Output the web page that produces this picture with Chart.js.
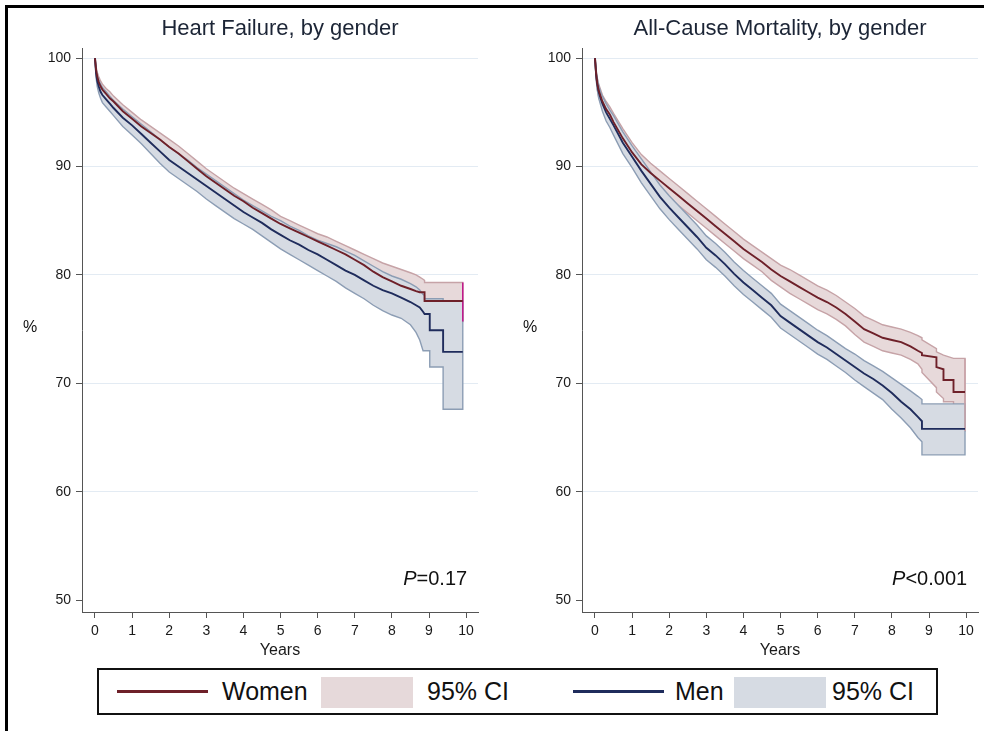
<!DOCTYPE html>
<html>
<head>
<meta charset="utf-8">
<script src="https://cdn.jsdelivr.net/npm/chart.js@4.4.1/dist/chart.umd.min.js"></script>
<style>
html,body{margin:0;padding:0;background:#fff;width:984px;height:731px;overflow:hidden;font-family:"Liberation Sans",Arial,sans-serif;}
#frame{position:absolute;left:5px;top:5px;width:979px;height:726px;border-left:3px solid #000;border-top:3px solid #000;box-sizing:border-box;}
#c1{position:absolute;left:0;top:0;}
#c2{position:absolute;left:500px;top:0;}
#legend{position:absolute;left:97px;top:668px;width:841px;height:47px;border:2px solid #111;box-sizing:border-box;background:#fff;}
#legend .ln{position:absolute;top:20px;height:3px;width:91px;}
#legend .sw{position:absolute;top:7px;height:31px;width:92px;}
#legend .tx{position:absolute;top:0;height:43px;line-height:43px;font-size:25px;color:#111;white-space:nowrap;}
</style>
</head>
<body>
<div id="frame"></div>
<canvas id="c1" width="492" height="660"></canvas>
<canvas id="c2" width="484" height="660"></canvas>
<div id="legend">
  <div class="ln" style="left:18px;background:#6e2029;"></div>
  <div class="tx" style="left:123px;">Women</div>
  <div class="sw" style="left:222px;background:#e6d9da;"></div>
  <div class="tx" style="left:328px;">95% CI</div>
  <div class="ln" style="left:474px;background:#1f2c5c;"></div>
  <div class="tx" style="left:576px;">Men</div>
  <div class="sw" style="left:635px;background:#d6dbe3;"></div>
  <div class="tx" style="left:733px;">95% CI</div>
</div>
<script>
// ---------- data ----------
const xTicks = [0,1,2,3,4,5,6,7,8,9,10];
const yTicks = [50,60,70,80,90,100];

// Heart Failure, by gender
const hfTimes = [0,0.03,0.06,0.1,0.15,0.2,0.3,0.4,0.5,
 0.75,1,1.25,1.5,1.75,2,2.25,2.5,2.75,3,3.25,3.5,3.75,4,4.25,4.5,4.75,5,5.25,5.5,5.75,6,6.25,6.5,6.75,7,7.25,7.5,7.75,8,8.25,8.5,
 8.65,8.75,8.84,8.88,8.88,9.02,9.02,9.38,9.38,9.91];
const hfWomen = [100,98.9,98.3,97.8,97.4,97.1,96.7,96.3,96.0,
 95.1,94.4,93.7,93.1,92.5,91.8,91.2,90.5,89.8,89.1,88.5,87.9,87.3,86.8,86.2,85.7,85.2,84.7,84.3,83.9,83.5,83.1,82.7,82.3,81.9,81.4,80.9,80.3,79.8,79.4,79.0,78.7,
 78.5,78.4,78.4,78.4,77.6,77.6,77.6,77.6,77.6,77.6];
const hfWomenHi = [100,99.2,98.7,98.3,97.9,97.6,97.2,96.9,96.5,
 95.7,95.0,94.3,93.7,93.1,92.5,91.9,91.2,90.5,89.8,89.2,88.6,88.0,87.5,87.0,86.5,86.0,85.4,85.0,84.6,84.2,83.8,83.5,83.1,82.7,82.3,81.9,81.5,81.1,80.8,80.5,80.2,
 80.0,79.8,79.6,79.5,79.3,79.3,79.3,79.3,79.3,79.3];
const hfWomenLo = [100,98.6,97.9,97.3,96.9,96.6,96.2,95.8,95.4,
 94.5,93.8,93.1,92.5,91.8,91.1,90.5,89.8,89.1,88.4,87.8,87.2,86.6,86.1,85.5,85.0,84.5,84.0,83.6,83.1,82.7,82.3,81.9,81.5,81.0,80.5,80.0,79.3,78.7,78.2,77.8,77.4,
 77.2,77.0,76.9,76.8,75.7,75.7,75.7,75.7,75.7,75.7];
const hfMen = [100,98.6,97.9,97.4,96.9,96.6,96.2,95.8,95.4,
 94.5,93.8,93.0,92.2,91.4,90.6,90.0,89.4,88.8,88.2,87.6,87.0,86.4,85.8,85.3,84.8,84.2,83.7,83.2,82.8,82.3,81.9,81.4,80.9,80.4,80.0,79.5,79.0,78.6,78.3,77.9,77.5,
 77.2,77.0,76.6,76.4,76.4,76.4,74.9,74.9,72.9,72.9];
const hfMenHi = [100,99.0,98.4,98.0,97.6,97.3,96.9,96.5,96.1,
 95.3,94.6,93.9,93.2,92.5,91.8,91.2,90.6,89.9,89.3,88.7,88.1,87.5,86.9,86.4,85.9,85.4,85.0,84.5,84.1,83.6,83.2,82.9,82.6,82.2,81.8,81.3,80.8,80.3,79.9,79.6,79.2,
 78.9,78.6,78.2,78.1,77.8,77.8,77.8,77.8,77.6,77.6];
const hfMenLo = [100,98.2,97.4,96.8,96.3,95.9,95.5,95.1,94.7,
 93.7,92.9,92.1,91.2,90.3,89.5,88.9,88.3,87.7,87.0,86.4,85.8,85.2,84.7,84.2,83.6,83.0,82.4,81.9,81.4,80.9,80.4,79.9,79.4,78.8,78.3,77.8,77.2,76.7,76.3,76.0,75.4,
 74.7,74.0,73.0,73.0,73.0,73.0,71.5,71.5,67.6,67.6];

// All-Cause Mortality, by gender
const acTimes = [0,0.03,0.06,0.1,0.15,0.2,0.3,0.4,0.5,
 0.75,1,1.25,1.5,1.75,2,2.25,2.5,2.75,3,3.25,3.5,3.75,4,4.25,4.5,4.75,5,5.25,5.5,5.75,6,6.25,6.5,6.75,7,7.25,7.5,7.75,8,8.25,8.5,
 8.7,8.81,8.81,9.2,9.2,9.39,9.39,9.66,9.66,9.97];
const acWomen = [100,98.6,97.7,97.0,96.5,96.0,95.3,94.8,94.1,
 92.6,91.3,90.2,89.4,88.7,88.0,87.3,86.6,85.9,85.2,84.5,83.8,83.1,82.4,81.8,81.2,80.5,79.9,79.4,78.9,78.4,77.9,77.5,77.0,76.4,75.7,75.0,74.6,74.2,74.0,73.8,73.4,
 73.0,72.8,72.6,72.4,71.5,71.3,70.3,70.3,69.2,69.2];
const acWomenHi = [100,99.0,98.2,97.6,97.1,96.6,96.0,95.5,94.9,
 93.5,92.2,91.1,90.3,89.6,88.9,88.2,87.5,86.8,86.1,85.4,84.7,84.0,83.3,82.7,82.1,81.5,80.9,80.5,80.0,79.5,79.0,78.6,78.1,77.5,76.9,76.2,75.8,75.4,75.2,75.0,74.7,
 74.4,74.2,74.0,73.2,72.9,72.6,72.6,72.3,72.3,72.3];
const acWomenLo = [100,98.2,97.2,96.4,95.9,95.4,94.6,94.1,93.3,
 91.7,90.4,89.3,88.5,87.8,87.1,86.4,85.7,85.0,84.3,83.6,82.9,82.2,81.5,80.9,80.3,79.5,78.9,78.3,77.8,77.3,76.8,76.4,75.9,75.3,74.5,73.8,73.4,73.0,72.8,72.6,72.2,
 71.8,71.3,71.0,69.6,69.2,68.6,68.3,68.3,65.6,65.6];
const acMen = [100,98.5,97.6,96.9,96.3,95.8,95.0,94.4,93.8,
 92.2,90.9,89.6,88.4,87.2,86.2,85.3,84.4,83.5,82.5,81.8,81.0,80.1,79.3,78.6,77.9,77.2,76.2,75.6,75.0,74.4,73.8,73.3,72.7,72.1,71.5,70.9,70.4,69.8,69.1,68.3,67.6,
 66.9,66.5,65.8,65.8,65.8,65.8,65.8,65.8,65.8,65.8];
const acMenHi = [100,98.9,98.1,97.5,96.9,96.5,95.8,95.2,94.7,
 93.2,91.9,90.7,89.5,88.3,87.3,86.4,85.5,84.6,83.6,82.9,82.1,81.2,80.4,79.7,79.0,78.3,77.3,76.7,76.1,75.5,74.9,74.4,73.8,73.2,72.7,72.1,71.6,71.1,70.5,69.9,69.3,
 68.8,68.5,68.1,68.1,68.1,68.1,68.1,68.1,68.1,68.1];
const acMenLo = [100,98.1,97.1,96.3,95.7,95.1,94.2,93.6,92.9,
 91.2,89.9,88.5,87.3,86.1,85.1,84.2,83.3,82.4,81.4,80.7,79.9,79.0,78.2,77.5,76.8,76.1,75.1,74.5,73.9,73.3,72.7,72.2,71.6,71.0,70.3,69.7,69.1,68.5,67.6,66.8,65.9,
 65.0,64.6,63.4,63.4,63.4,63.4,63.4,63.4,63.4,63.4];

const titles = ['Heart Failure, by gender', 'All-Cause Mortality, by gender'];
const pLabels = ['=0.17', '<0.001'];

// ---------- drawing ----------
const FONT = '"Liberation Sans", Arial, sans-serif';
Chart.defaults.font.family = FONT;
Chart.defaults.animation = false;

const WOMEN_LINE = '#6e2029', MEN_LINE = '#1f2c5c';
const WOMEN_FILL = '#e7d9da', WOMEN_EDGE = '#c6a3a7';
const MEN_FILL = '#d6dbe3', MEN_EDGE = '#8c9db4';

function pts(t, v){ return t.map((x,i)=>({x:x, y:v[i]})); }
function band(t, hi, lo){ return pts(t,hi).concat(pts(t,lo).reverse()); }
function edge(t, hi, lo){ const n=t.length-1; return [{x:t[n],y:hi[n]},{x:t[n],y:lo[n]}]; }

const annot = {
  id:'annot',
  afterDraw(chart, args, opts){
    const ctx = chart.ctx, ca = chart.chartArea;
    ctx.save();
    ctx.fillStyle = '#111';
    ctx.font = '16px ' + FONT;
    ctx.textAlign = 'center'; ctx.textBaseline = 'middle';
    ctx.fillText('%', 30, (ca.top + ca.bottom)/2 - 3);
    ctx.textAlign = 'left'; ctx.textBaseline = 'alphabetic';
    ctx.font = '20px ' + FONT;
    const rw = ctx.measureText(opts.p).width;
    ctx.font = 'italic 20px ' + FONT;
    const pw = ctx.measureText('P').width;
    const xr = chart.scales.x.getPixelForValue(10) + 1;
    const yb = ca.bottom - 27;
    ctx.fillText('P', xr - rw - pw, yb);
    ctx.font = '20px ' + FONT;
    ctx.fillText(opts.p, xr - rw, yb);
    ctx.restore();
  }
};

function makeChart(id, title, p, T, w, wHi, wLo, m, mHi, mLo, edgeColor){
  return new Chart(document.getElementById(id), {
    type:'line',
    data:{ datasets:[
      {label:'Women', data:pts(T,w), borderColor:WOMEN_LINE, borderWidth:1.9, pointRadius:0, fill:false, tension:0, order:0},
      {label:'Men', data:pts(T,m), borderColor:MEN_LINE, borderWidth:1.9, pointRadius:0, fill:false, tension:0, order:0},
      {label:'Women CI edge', data:edge(T,wHi,wLo), borderColor:edgeColor, borderWidth:1.5, pointRadius:0, fill:false, order:0},
      {label:'Men 95% CI', data:band(T,mHi,mLo), borderColor:MEN_EDGE, backgroundColor:MEN_FILL, borderWidth:1.4, pointRadius:0, fill:'shape', tension:0, order:1},
      {label:'Women 95% CI', data:band(T,wHi,wLo), borderColor:WOMEN_EDGE, backgroundColor:WOMEN_FILL, borderWidth:1.4, pointRadius:0, fill:'shape', tension:0, order:2}
    ]},
    options:{
      responsive:false, animation:false,
      layout:{padding:{left:0, right:(id==='c1'?14:6), top:0, bottom:0}},
      scales:{
        x:{type:'linear', min:-0.35, max:10.32,
          afterBuildTicks:s=>{ s.ticks = xTicks.map(v=>({value:v})); },
          afterFit:s=>{ s.height = 48; },
          grid:{drawOnChartArea:false, drawTicks:true, tickLength:6, tickColor:'#555', tickWidth:1},
          border:{display:true, color:'#555', width:1},
          ticks:{font:{size:14}, color:'#1a1a1a', padding:5, maxRotation:0, autoSkip:false},
          title:{display:true, text:'Years', font:{size:16}, color:'#1a1a1a', padding:{top:0,bottom:0}}
        },
        y:{type:'linear', min:48.9, max:100.9,
          afterBuildTicks:s=>{ s.ticks = yTicks.map(v=>({value:v})); },
          afterFit:s=>{ s.width = 82; },
          grid:{color:c=>(c.tick && c.tick.value===50) ? 'rgba(0,0,0,0)' : '#e3ebf3', lineWidth:1, drawTicks:true, tickLength:6, tickColor:'#555', tickWidth:1},
          border:{display:true, color:'#555', width:1},
          ticks:{font:{size:14}, color:'#1a1a1a', padding:5}
        }
      },
      plugins:{
        legend:{display:false}, tooltip:{enabled:false},
        title:{display:true, text:title, fullSize:false, font:{size:22, weight:'normal'}, color:'#1c2536', padding:{top:16,bottom:6}},
        annot:{p:p}
      }
    },
    plugins:[annot]
  });
}

makeChart('c1', titles[0], pLabels[0], hfTimes, hfWomen, hfWomenHi, hfWomenLo, hfMen, hfMenHi, hfMenLo, '#c0168a');
makeChart('c2', titles[1], pLabels[1], acTimes, acWomen, acWomenHi, acWomenLo, acMen, acMenHi, acMenLo, '#c9a3a8');
</script>
</body>
</html>
